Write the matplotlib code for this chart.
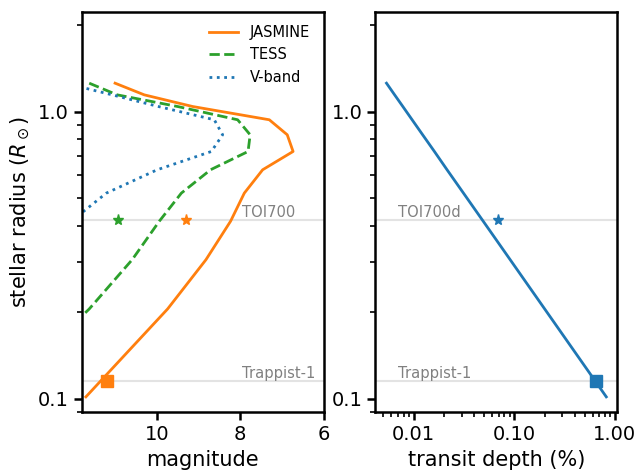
import numpy as np
import matplotlib
matplotlib.use("Agg")
import matplotlib.pyplot as plt
from matplotlib.ticker import FixedLocator, FormatStrFormatter, NullFormatter

# stellar radius grid (R_sun)
radius = [1.255, 1.143, 1.041, 0.936, 0.830, 0.726, 0.627, 0.520, 0.415, 0.305, 0.2055, 0.1016]

# limiting magnitudes
mag_jasmine = [11.00, 10.30, 9.14, 7.30, 6.87, 6.73, 7.46, 7.90, 8.23, 8.82, 9.74, 11.70]
mag_tess = [11.62, 10.95, 9.50, 8.06, 7.76, 7.81, 8.71, 9.41, 9.94, 10.59, 11.62, 13.80]
mag_vband = [12.20, 11.07, 9.96, 8.62, 8.42, 8.69, 9.99, 11.21, 12.05, 13.00, 14.50, 17.00]

# transit depth (%) of an Earth-size planet
depth = [0.00538, 0.00648, 0.00782, 0.00967, 0.0123, 0.0161, 0.0215, 0.0313,
         0.0492, 0.0911, 0.2006, 0.821]

# known targets
toi700_radius = 0.418
trappist_radius = 0.115
toi700_tmag = 10.94
toi700_jmag = 9.31
trappist_jmag = 11.19
toi700d_depth = 0.0684
trappist_depth = 0.647

fig, (ax1, ax2) = plt.subplots(1, 2, figsize=(6.41, 4.71), dpi=100)
fig.subplots_adjust(left=0.1275, right=0.963, top=0.9745, bottom=0.1253, wspace=0.215)

for ax in (ax1, ax2):
    ax.axhline(toi700_radius, color="#e3e3e3", lw=1.5, zorder=0)
    ax.axhline(trappist_radius, color="#e3e3e3", lw=1.5, zorder=0)

ax1.plot(mag_jasmine, radius, color="C1", lw=2, label="JASMINE")
ax1.plot(mag_tess, radius, color="C2", lw=2, ls="--", label="TESS")
ax1.plot(mag_vband, radius, color="C0", lw=2, ls=":", label="V-band")
ax1.plot(toi700_tmag, toi700_radius, "*", color="C2", ms=8)
ax1.plot(toi700_jmag, toi700_radius, "*", color="C1", ms=8)
ax1.plot(trappist_jmag, trappist_radius, "s", color="C1", ms=8)
ax1.text(7.96, toi700_radius, "TOI700", color="gray", fontsize=10.6, va="bottom")
ax1.text(7.96, trappist_radius, "Trappist-1", color="gray", fontsize=10.6, va="bottom")
ax1.set_yscale("log")
ax1.set_xlim(11.8, 6)
ax1.set_ylim(0.09, 2.22)
ax1.xaxis.set_major_locator(FixedLocator([10, 8, 6]))
ax1.set_xlabel("magnitude", fontsize=15)
ax1.set_ylabel(r"stellar radius ($R_\odot$)", fontsize=15)
ax1.legend(loc="upper right", frameon=False, fontsize=10.5)

ax2.plot(depth, radius, color="C0", lw=2)
ax2.plot(toi700d_depth, toi700_radius, "*", color="C0", ms=8)
ax2.plot(trappist_depth, trappist_radius, "s", color="C0", ms=8)
ax2.set_xscale("log")
ax2.set_yscale("log")
ax2.set_ylim(0.09, 2.22)
ax2.text(0.0070, toi700_radius, "TOI700d", color="gray", fontsize=10.6, va="bottom")
ax2.text(0.0070, trappist_radius, "Trappist-1", color="gray", fontsize=10.6, va="bottom")
ax2.xaxis.set_major_formatter(FormatStrFormatter("%.2f"))
ax2.xaxis.set_minor_formatter(NullFormatter())
ax2.set_xlabel("transit depth (%)", fontsize=15)

for ax in (ax1, ax2):
    ax.yaxis.set_major_locator(FixedLocator([0.1, 1.0]))
    ax.yaxis.set_major_formatter(FormatStrFormatter("%.1f"))
    ax.yaxis.set_minor_formatter(NullFormatter())
    ax.tick_params(which="major", labelsize=14, width=1.8, length=6)
    ax.tick_params(which="minor", width=1.2, length=3.5)
    for s in ax.spines.values():
        s.set_linewidth(1.8)

plt.savefig("out.png", dpi=100)
